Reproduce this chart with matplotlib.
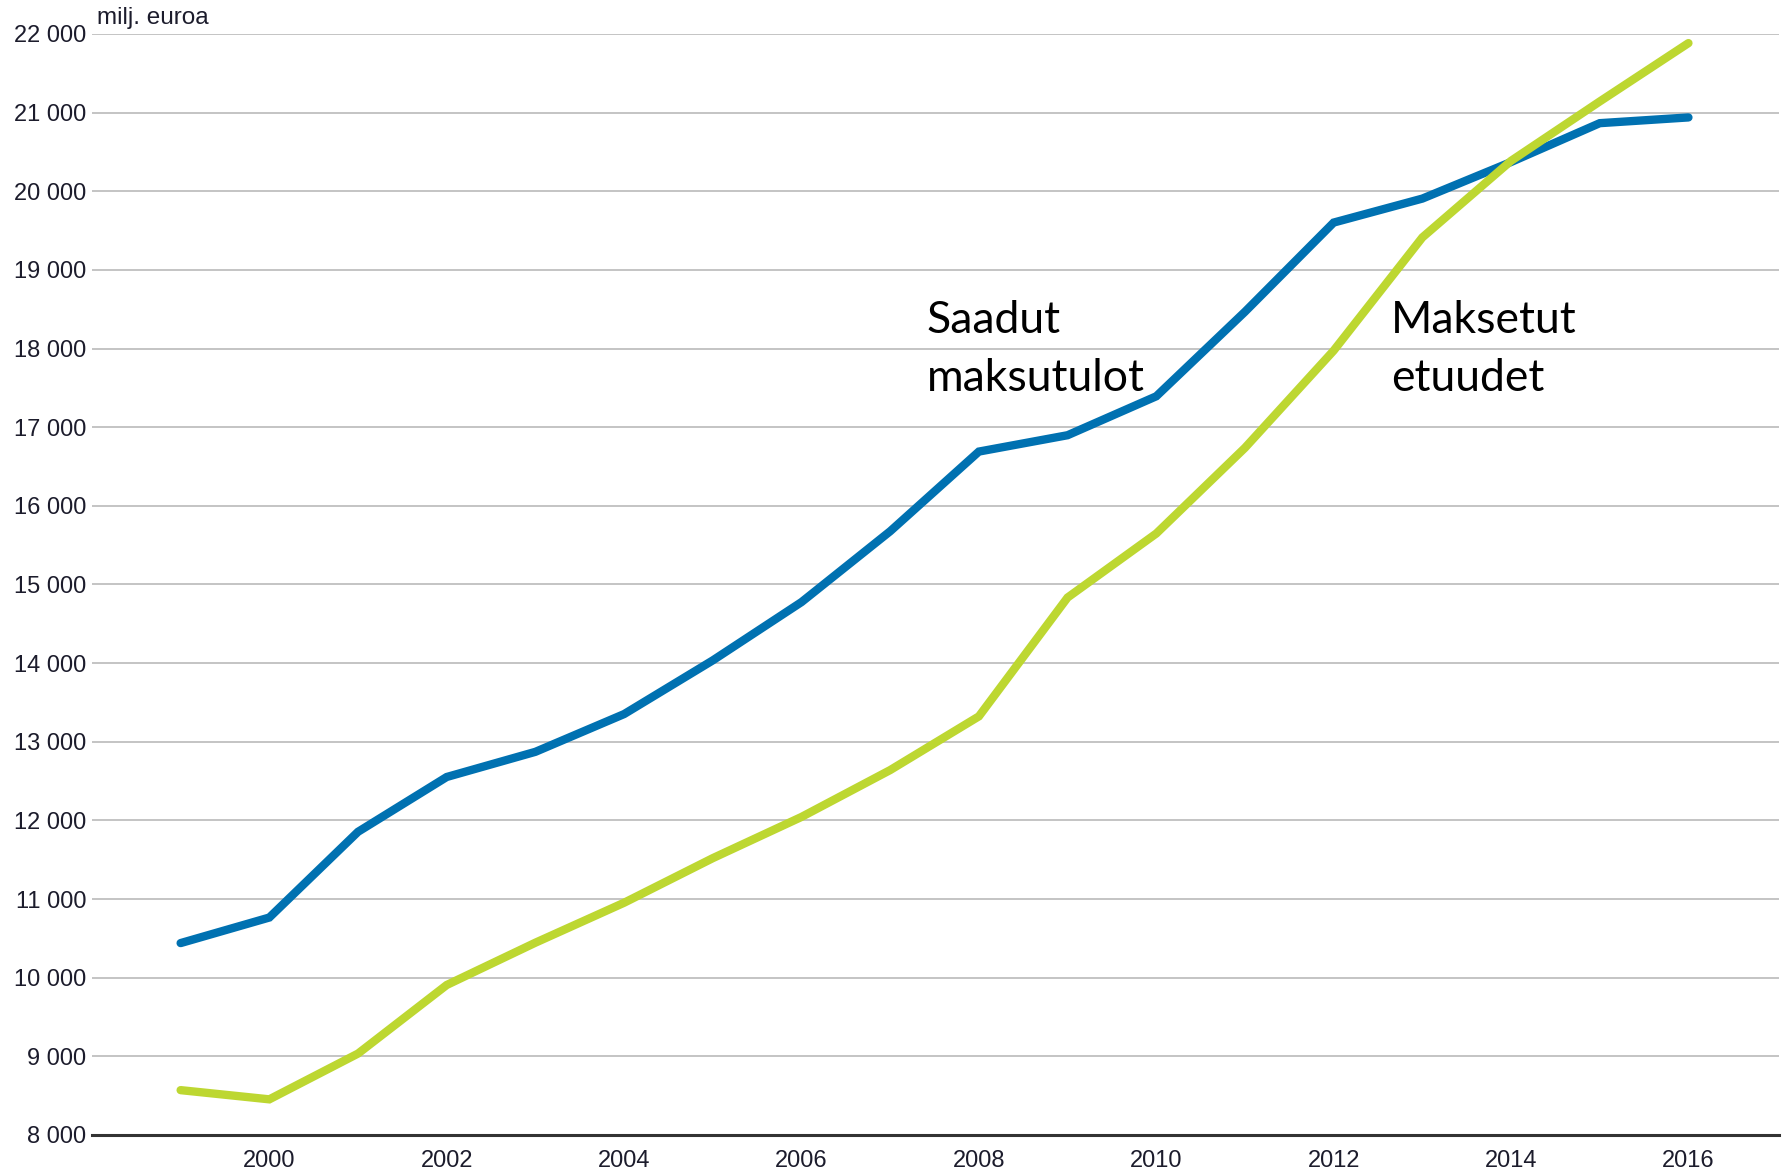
import matplotlib.pyplot as plt

# Vuodet ja sarjat (milj. euroa), luettu kuvasta
vuodet = list(range(1999, 2017))
saadut_maksutulot = [10440, 10765, 11855, 12552, 12872, 13352, 14035, 14776, 15677,
                     16690, 16898, 17393, 18468, 19602, 19907, 20372, 20866, 20939]
maksetut_etuudet = [8570, 8453, 9035, 9907, 10445, 10953, 11520, 12044, 12640,
                    13323, 14834, 15648, 16738, 17974, 19413, 20387, 21142, 21884]

y_ticks = list(range(8000, 22001, 1000))
x_ticks = list(range(2000, 2017, 2))

sininen = '#0071B1'
vihrea = '#BDD731'
tekstivari = '#1c1c2c'

fig = plt.figure(figsize=(17.92, 11.72), dpi=100)
ax = fig.add_axes([0.0513, 0.0316, 0.9414, 0.9394])

ax.plot(vuodet, saadut_maksutulot, color=sininen, linewidth=6, solid_capstyle='round',
        solid_joinstyle='miter', zorder=3, clip_on=False)
ax.plot(vuodet, maksetut_etuudet, color=vihrea, linewidth=6, solid_capstyle='round',
        solid_joinstyle='miter', zorder=3, clip_on=False)

ax.set_xlim(1998.0, 2017.02)
ax.set_ylim(8000, 22000)
ax.set_yticks(y_ticks)
ax.set_yticklabels([f'{v:,}'.replace(',', ' ') for v in y_ticks])
ax.set_xticks(x_ticks)
ax.set_xticklabels([str(v) for v in x_ticks])

ax.grid(axis='y', color='#C4C4C4', linewidth=1.4)
ax.set_axisbelow(True)
for side in ['top', 'right', 'left']:
    ax.spines[side].set_visible(False)
ax.spines['bottom'].set_color('#333333')
ax.spines['bottom'].set_linewidth(2.2)
ax.spines['bottom'].set_zorder(2)

ax.tick_params(axis='y', length=0, pad=4, labelsize=17, labelcolor=tekstivari)
ax.tick_params(axis='x', length=0, pad=11, labelsize=17, labelcolor=tekstivari)
for lab in ax.get_xticklabels() + ax.get_yticklabels():
    lab.set_fontfamily('Liberation Sans')

fig.text(0.054, 0.985, 'milj. euroa', fontsize=17.5, color=tekstivari,
         family='Liberation Sans', ha='left', va='center')

# Sarjojen nimet suoraan kuvaan
ax.text(2007.41, 18204, 'Saadut', fontsize=32, family='Lato', ha='left', va='baseline')
ax.text(2007.41, 17466, 'maksutulot', fontsize=32, family='Lato', ha='left', va='baseline')
ax.text(2012.65, 18204, 'Maksetut', fontsize=32, family='Lato', ha='left', va='baseline')
ax.text(2012.65, 17466, 'etuudet', fontsize=32, family='Lato', ha='left', va='baseline')

fig.savefig('out.png', dpi=100)
